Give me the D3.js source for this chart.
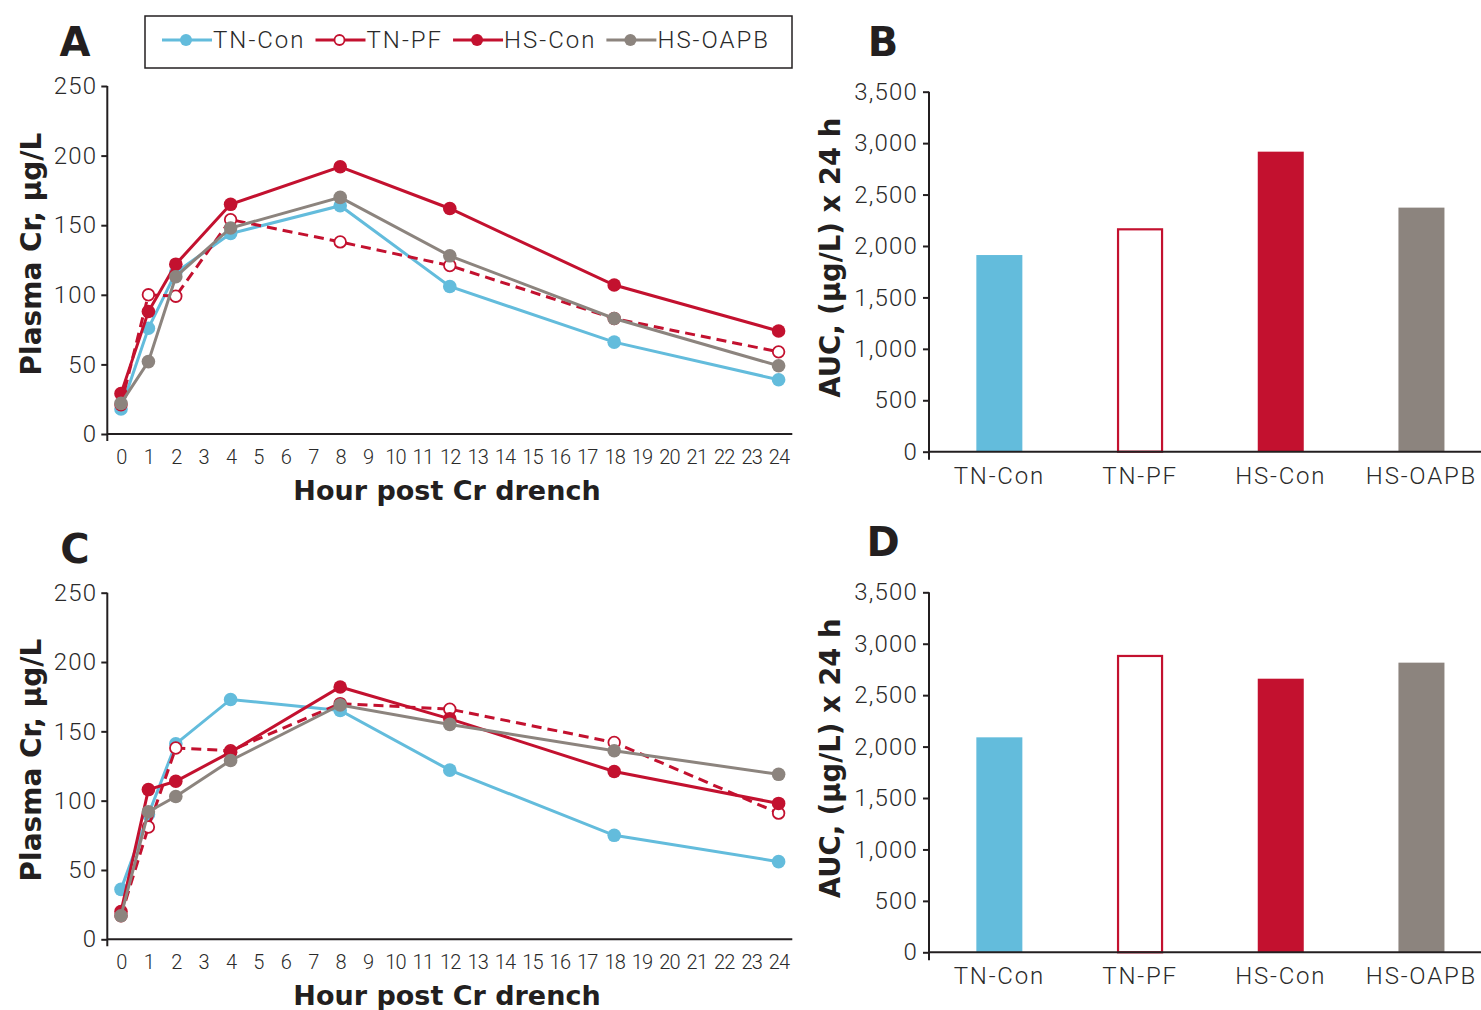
<!DOCTYPE html>
<html>
<head>
<meta charset="utf-8">
<script src="https://cdn.jsdelivr.net/npm/d3@7"></script>
<style>
  body { margin: 0; background: #fff; }
  svg { display: block; }
  .tick-num { font-family: Roboto, "Open Sans", sans-serif; font-weight: 300; fill: #2a2a2a; }
  .title { font-family: "DejaVu Sans", Roboto, sans-serif; font-weight: bold; fill: #231f20; }
</style>
</head>
<body>
<div id="chart"></div>
<script>
// ---- data ----
const groups = ["TN-Con", "TN-PF", "HS-Con", "HS-OAPB"];
const hours = [0, 1, 2, 4, 8, 12, 18, 24];
const hourTicks = d3.range(0, 25);

// panel A: plasma Cr, ug/L
const tnConA  = [18, 76, 116, 144, 164, 106, 66, 39];
const tnPfA   = [21, 100, 99, 154, 138, 121, 83, 59];
const hsConA  = [29, 88, 122, 165, 192, 162, 107, 74];
const hsOapbA = [22, 52, 113, 148, 170, 128, 83, 49];

// panel C: plasma Cr, ug/L
const tnConC  = [36, 90, 141, 173, 165, 122, 75, 56];
const tnPfC   = [17, 81, 138, 136, 170, 166, 142, 91];
const hsConC  = [20, 108, 114, 135, 182, 159, 121, 98];
const hsOapbC = [17, 92, 103, 129, 169, 155, 136, 119];

// AUC, (ug/L) x 24 h
const aucB = [1912, 2162, 2917, 2373];
const aucD = [2090, 2881, 2660, 2816];

const yTicksLine = [0, 50, 100, 150, 200, 250];
const yTicksBar = [0, 500, 1000, 1500, 2000, 2500, 3000, 3500];

// ---- styles ----
const colors = { "TN-Con": "#63bcdc", "TN-PF": "#c3112f", "HS-Con": "#c3112f", "HS-OAPB": "#8c847e" };
const openMarker = { "TN-PF": true };
const dashed = { "TN-PF": true };
const axisColor = "#231f20";

const W = 1481, H = 1010;
const svg = d3.select("#chart").append("svg")
    .attr("width", W)
    .attr("height", H);

const x = d3.scaleLinear().domain([-0.5, 24.5]).range([107.3, 792.3]);

function linePanel(series, y0, y1, letter) {
  const y = d3.scaleLinear().domain([0, 250]).range([y0, y1]);
  const g = svg.append("g");

  // y axis
  const yAxis = g.append("g")
      .attr("transform", "translate(" + x.range()[0] + ",0)")
      .call(d3.axisLeft(y).tickValues(yTicksLine).tickSize(6).tickSizeOuter(0).tickPadding(4));
  yAxis.select(".domain").remove();
  yAxis.selectAll("line").attr("stroke", axisColor).attr("stroke-width", 2);
  yAxis.selectAll("text").attr("class", "tick-num")
      .style("font-size", "24px").style("letter-spacing", "1.2px");
  g.append("line")
      .attr("x1", x.range()[0]).attr("x2", x.range()[0])
      .attr("y1", y(250)).attr("y2", y(0) + 7)
      .attr("stroke", axisColor).attr("stroke-width", 2);

  // x axis
  const xAxis = g.append("g")
      .attr("transform", "translate(0," + y(0) + ")")
      .call(d3.axisBottom(x).tickValues(hourTicks).tickSize(0).tickPadding(16));
  xAxis.select(".domain").remove();
  xAxis.selectAll("text").attr("class", "tick-num")
      .style("font-size", "20px").style("letter-spacing", "-0.8px");
  g.append("line")
      .attr("x1", x.range()[0]).attr("x2", x.range()[1])
      .attr("y1", y(0)).attr("y2", y(0))
      .attr("stroke", axisColor).attr("stroke-width", 2);

  // lines and markers
  const line = d3.line().x((d, i) => x(hours[i])).y(d => y(d));
  groups.forEach((name, k) => {
    const vals = series[k];
    g.append("path")
        .attr("d", line(vals))
        .attr("fill", "none")
        .attr("stroke", colors[name])
        .attr("stroke-width", 3)
        .attr("stroke-dasharray", dashed[name] ? "10,6" : null);
    g.selectAll(".pt-" + k)
      .data(vals)
      .enter().append("circle")
        .attr("cx", (d, i) => x(hours[i]))
        .attr("cy", d => y(d))
        .attr("r", openMarker[name] ? 5.8 : 6.8)
        .attr("fill", openMarker[name] ? "#fff" : colors[name])
        .attr("stroke", openMarker[name] ? colors[name] : "none")
        .attr("stroke-width", 1.8);
  });

  // titles
  g.append("text").attr("class", "title")
      .attr("x", 447).attr("y", y(0) + 66)
      .attr("text-anchor", "middle")
      .style("font-size", "27px")
      .text("Hour post Cr drench");
  g.append("text").attr("class", "title")
      .attr("transform", "translate(41," + ((y0 + y1) / 2 - 6) + ") rotate(-90)")
      .attr("text-anchor", "middle")
      .style("font-size", "28px")
      .text("Plasma Cr, µg/L");
  g.append("text").attr("class", "title")
      .attr("x", 75).attr("y", y1 - 30)
      .attr("text-anchor", "middle")
      .style("font-size", "40px")
      .text(letter);
}

function barPanel(values, y0, y1, letter) {
  const xb = d3.scaleBand().domain(groups).range([929, 1491.8])
      .paddingInner(0.673).paddingOuter(0.3365);
  const y = d3.scaleLinear().domain([0, 3500]).range([y0, y1]);
  const g = svg.append("g");

  g.selectAll(".bar")
    .data(values)
    .enter().append("rect")
      .attr("x", (d, i) => xb(groups[i]) + (openMarker[groups[i]] ? 1 : 0))
      .attr("y", d => y(d))
      .attr("width", (d, i) => xb.bandwidth() - (openMarker[groups[i]] ? 2 : 0))
      .attr("height", d => y(0) - y(d))
      .attr("fill", (d, i) => openMarker[groups[i]] ? "#fff" : colors[groups[i]])
      .attr("stroke", (d, i) => openMarker[groups[i]] ? colors[groups[i]] : "none")
      .attr("stroke-width", 2.2);

  const yAxis = g.append("g")
      .attr("transform", "translate(929,0)")
      .call(d3.axisLeft(y).tickValues(yTicksBar).tickFormat(d3.format(",")).tickSize(6).tickSizeOuter(0).tickPadding(5));
  yAxis.select(".domain").remove();
  yAxis.selectAll("line").attr("stroke", axisColor).attr("stroke-width", 2);
  yAxis.selectAll("text").attr("class", "tick-num")
      .style("font-size", "24px").style("letter-spacing", "1.2px");
  g.append("line")
      .attr("x1", 929).attr("x2", 929)
      .attr("y1", y(3500)).attr("y2", y(0) + 8)
      .attr("stroke", axisColor).attr("stroke-width", 2);

  const xAxis = g.append("g")
      .attr("transform", "translate(0," + y(0) + ")")
      .call(d3.axisBottom(xb).tickSize(0).tickPadding(15));
  xAxis.select(".domain").remove();
  xAxis.selectAll("text").attr("class", "tick-num")
      .style("font-size", "24px").style("letter-spacing", "1.8px");
  g.append("line")
      .attr("x1", 929).attr("x2", W)
      .attr("y1", y(0)).attr("y2", y(0))
      .attr("stroke", axisColor).attr("stroke-width", 2);

  g.append("text").attr("class", "title")
      .attr("transform", "translate(840," + ((y0 + y1) / 2 - 14) + ") rotate(-90)")
      .attr("text-anchor", "middle")
      .style("font-size", "27.5px")
      .text("AUC, (µg/L) x 24 h");
  g.append("text").attr("class", "title")
      .attr("x", 883).attr("y", y1 - 36)
      .attr("text-anchor", "middle")
      .style("font-size", "40px")
      .text(letter);
}

linePanel([tnConA, tnPfA, hsConA, hsOapbA], 434, 86, "A");
linePanel([tnConC, tnPfC, hsConC, hsOapbC], 939.3, 592.7, "C");
barPanel(aucB, 451.7, 91.7, "B");
barPanel(aucD, 952.3, 592.3, "D");

// legend
const leg = svg.append("g");
leg.append("rect")
    .attr("x", 145).attr("y", 16).attr("width", 647).attr("height", 52)
    .attr("fill", "#fff").attr("stroke", axisColor).attr("stroke-width", 1.5);
let cx = 162;
groups.forEach(name => {
  leg.append("line")
      .attr("x1", cx).attr("x2", cx + 50).attr("y1", 40).attr("y2", 40)
      .attr("stroke", colors[name]).attr("stroke-width", 3);
  leg.append("circle")
      .attr("cx", cx + 24).attr("cy", 40)
      .attr("r", openMarker[name] ? 5 : 6)
      .attr("fill", openMarker[name] ? "#fff" : colors[name])
      .attr("stroke", openMarker[name] ? colors[name] : "none")
      .attr("stroke-width", 1.8);
  const t = leg.append("text")
      .attr("class", "tick-num")
      .attr("x", cx + 51).attr("y", 40)
      .attr("dy", "0.35em")
      .style("font-size", "24px").style("letter-spacing", "2px")
      .text(name);
  cx += 51 + t.node().getComputedTextLength() + 10;
});
</script>
</body>
</html>
